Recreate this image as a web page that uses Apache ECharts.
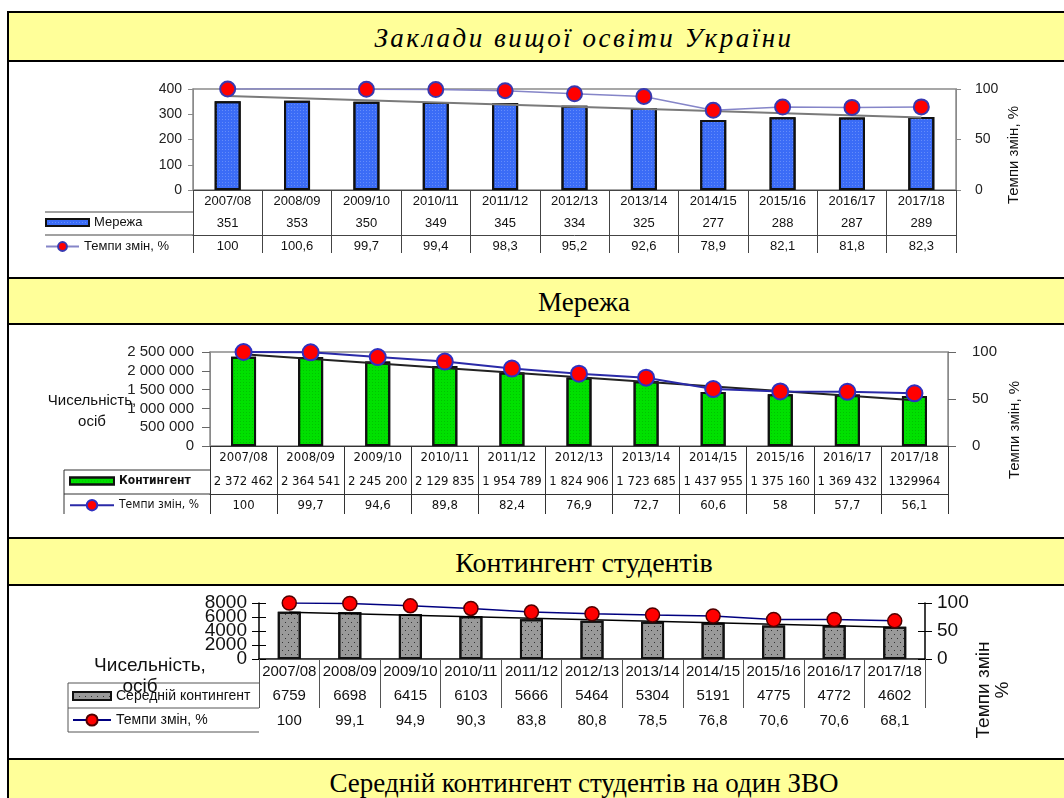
<!DOCTYPE html>
<html>
<head>
<meta charset="utf-8">
<script src="https://cdn.jsdelivr.net/npm/echarts@6/dist/echarts.min.js"></script>
<style>
  html, body { margin: 0; padding: 0; background: #fff; width: 1064px; height: 798px; overflow: hidden; }
  .wrap { position: absolute; left: 7px; top: 11px; width: 1150px; border: 2px solid #000; border-bottom: none; }
  .band { background: #ffff99; border-bottom: 2px solid #000; text-align: center; color: #000;
          font-family: 'Liberation Serif', 'Times New Roman', serif; font-size: 27px; }
  .band.main { font-style: italic; font-size: 27px; letter-spacing: 2.5px; }
  .chart { width: 1150px; border-bottom: 2px solid #000; }
</style>
</head>
<body>
<div class="wrap">
  <div class="band main" style="height:47px;line-height:50px">Заклади вищої освіти України</div>
  <div class="chart" id="c1" style="height:215px"></div>
  <div class="band" style="height:44px;line-height:46px">Мережа</div>
  <div class="chart" id="c2" style="height:212px"></div>
  <div class="band" style="height:45px;line-height:48px;font-size:28px">Контингент студентів</div>
  <div class="chart" id="c3" style="height:172px"></div>
  <div class="band" style="height:40px;line-height:46px">Середній контингент студентів на один ЗВО</div>
</div>
<script>
const years = ['2007/08', '2008/09', '2009/10', '2010/11', '2011/12', '2012/13',
  '2013/14', '2014/15', '2015/16', '2016/17', '2017/18'];

// мережа закладів
const merezha = [351, 353, 350, 349, 345, 334, 325, 277, 288, 287, 289];
const merezhaTemp = [100, 100.6, 99.7, 99.4, 98.3, 95.2, 92.6, 78.9, 82.1, 81.8, 82.3];
const merezhaTrend = [372, 287]; // лінія тренду: початок і кінець

// контингент студентів
const kontyngent = [2372462, 2364541, 2245200, 2129835, 1954789, 1824906, 1723685,
  1437955, 1375160, 1369432, 1329964];
const kontyngentLabels = ['2 372 462', '2 364 541', '2 245 200', '2 129 835', '1 954 789',
  '1 824 906', '1 723 685', '1 437 955', '1 375 160', '1 369 432', '1329964'];
const kontyngentTemp = [100, 99.7, 94.6, 89.8, 82.4, 76.9, 72.7, 60.6, 58, 57.7, 56.1];
const kontyngentTrend = [2440000, 1220000];

// середній контингент на один ЗВО
const serednii = [6759, 6698, 6415, 6103, 5666, 5464, 5304, 5191, 4775, 4772, 4602];
const seredniiTemp = [100, 99.1, 94.9, 90.3, 83.8, 80.8, 78.5, 76.8, 70.6, 70.6, 68.1];
const seredniiTrend = [6690, 4540];
const seredniiTicks = ['0', '2000', '4000', '6000', '8000'];

const arial = "'Liberation Sans', Arial, sans-serif";
const cond = "'DejaVu Sans Condensed', 'DejaVu Sans', sans-serif";

function comma(list) {
  return list.map(v => String(v).replace('.', ','));
}

// рядок таблиці даних під графіком = ще одна категорійна вісь
// tickLen - довжина вертикальних розділювачів клітинок вниз від лінії рядка
function tableRow(labels, offset, tickLen, st) {
  return {
    type: 'category', position: 'bottom', offset: offset, data: labels,
    axisLine: { show: true, lineStyle: { color: st.line, width: 1 } },
    axisTick: { show: tickLen > 0, interval: 0, length: tickLen, lineStyle: { color: st.line, width: 1 } },
    axisLabel: { show: labels.length > 0, interval: 0, margin: st.margin, color: '#111',
      fontSize: st.size, fontFamily: st.family },
    splitLine: { show: false }
  };
}

function hline(x1, x2, y, color) {
  return { type: 'line', shape: { x1: x1, y1: y, x2: x2, y2: y }, style: { stroke: color, lineWidth: 1 } };
}
function vline(x, y1, y2, color) {
  return { type: 'line', shape: { x1: x, y1: y1, x2: x, y2: y2 }, style: { stroke: color, lineWidth: 1 } };
}
function label(text, x, y, font, rot) {
  return { type: 'text', x: x, y: y, rotation: rot || 0,
    style: { text: text, font: font, fill: '#111', align: 'center', verticalAlign: 'middle' } };
}

// ---------- Мережа ----------
const chart1 = echarts.init(document.getElementById('c1'));
const st1 = { line: '#444', size: 13, family: arial, margin: 5 };
chart1.setOption({
  animation: false,
  grid: { left: 184, top: 27, width: 763, height: 101, show: true, borderColor: '#8a8a8a', borderWidth: 1.5,
    outerBoundsMode: 'none' },
  xAxis: [
    tableRow(years, 0, 45, st1),
    tableRow(merezha.map(String), 22, 0, st1),
    tableRow(comma(merezhaTemp), 45, 18, st1)
  ],
  yAxis: [
    { type: 'value', min: 0, max: 400, interval: 100, position: 'left',
      axisLine: { show: true, lineStyle: { color: '#8a8a8a' } },
      axisTick: { show: true, length: 5, lineStyle: { color: '#8a8a8a' } },
      axisLabel: { fontSize: 14, fontFamily: arial, color: '#222', margin: 11, showMaxLabel: true },
      splitLine: { show: false } },
    { type: 'value', min: 0, max: 100, interval: 50, position: 'right',
      axisLine: { show: true, lineStyle: { color: '#8a8a8a' } },
      axisTick: { show: true, length: 5, lineStyle: { color: '#8a8a8a' } },
      axisLabel: { fontSize: 14, fontFamily: arial, color: '#222', margin: 19, showMaxLabel: true },
      splitLine: { show: false } }
  ],
  legend: [
    { data: ['Мережа'], left: 36, top: 154, padding: 0, icon: 'rect', itemWidth: 43, itemHeight: 7,
      selectedMode: false, textStyle: { fontSize: 13, fontFamily: arial, color: '#111' } },
    { data: ['Темпи змін, %'], left: 36, top: 178, padding: 0, itemWidth: 33, itemHeight: 11,
      selectedMode: false, textStyle: { fontSize: 13, fontFamily: arial, color: '#111' } }
  ],
  graphic: [
    hline(36, 184, 150, '#444'),
    hline(36, 184, 173, '#444'),
    label('Темпи змін, %', 1005, 93, '15px ' + arial, Math.PI / 2)
  ],
  series: [
    { name: 'Мережа', type: 'bar', data: merezha, barWidth: 26, z: 2,
      itemStyle: { color: '#3b6cf6', borderColor: '#111', borderWidth: 2,
        decal: { symbol: 'rect', symbolSize: 1, dashArrayX: [[1, 2]], dashArrayY: [1, 2],
          color: 'rgba(150,180,255,0.45)' } } },
    { name: 'тренд', type: 'line', yAxisIndex: 0, z: 3, symbol: 'none', silent: true,
      data: [[years[0], merezhaTrend[0]], [years[10], merezhaTrend[1]]],
      lineStyle: { color: '#7a7a7a', width: 2 } },
    { name: 'Темпи змін, %', type: 'line', yAxisIndex: 1, data: merezhaTemp, z: 4,
      symbol: 'circle', symbolSize: 15,
      lineStyle: { color: '#8585c8', width: 1.5 },
      itemStyle: { color: '#ff0000', borderColor: '#3838b0', borderWidth: 2 } }
  ]
});

// ---------- Контингент ----------
const chart2 = echarts.init(document.getElementById('c2'));
const st2 = { line: '#333', size: 13, family: cond, margin: 5 };
chart2.setOption({
  animation: false,
  grid: { left: 201, top: 27, width: 738, height: 94, show: true, borderColor: '#8a8a8a', borderWidth: 1.5,
    outerBoundsMode: 'none' },
  xAxis: [
    tableRow(years, 0, 48, st2),
    tableRow(kontyngentLabels, 24, 0, st2),
    tableRow(comma(kontyngentTemp), 48, 20, st2)
  ],
  yAxis: [
    { type: 'value', min: 0, max: 2500000, interval: 500000, position: 'left',
      axisLine: { show: true, lineStyle: { color: '#8a8a8a' } },
      axisTick: { show: true, length: 8, lineStyle: { color: '#666' } },
      axisLabel: { fontSize: 15, fontFamily: arial, color: '#222', margin: 16, showMaxLabel: true,
        formatter: v => String(v).replace(/\B(?=(\d{3})+(?!\d))/g, ' ') },
      splitLine: { show: false } },
    { type: 'value', min: 0, max: 100, interval: 50, position: 'right',
      axisLine: { show: true, lineStyle: { color: '#8a8a8a' } },
      axisTick: { show: true, length: 8, lineStyle: { color: '#666' } },
      axisLabel: { fontSize: 15, fontFamily: arial, color: '#222', margin: 24, showMaxLabel: true },
      splitLine: { show: false } }
  ],
  legend: [
    { data: ['Контингент'], left: 60, top: 150, padding: 0, icon: 'rect', itemWidth: 44, itemHeight: 7,
      selectedMode: false, textStyle: { fontSize: 12, fontFamily: cond, fontWeight: 'bold', color: '#111' } },
    { data: ['Темпи змін, %'], left: 60, top: 174, padding: 0, itemWidth: 44, itemHeight: 13,
      selectedMode: false, textStyle: { fontSize: 12, fontFamily: cond, color: '#111' } }
  ],
  graphic: [
    hline(55, 201, 145, '#333'),
    hline(55, 201, 169, '#333'),
    vline(55, 145, 189, '#333'),
    label('Чисельність,', 83, 76, '15px ' + arial),
    label('осіб', 83, 97, '15px ' + arial),
    label('Темпи змін, %', 1006, 105, '15px ' + arial, Math.PI / 2)
  ],
  series: [
    { name: 'Контингент', type: 'bar', data: kontyngent, barWidth: 25, z: 2,
      itemStyle: { color: '#00e000', borderColor: '#111', borderWidth: 2,
        decal: { symbol: 'rect', symbolSize: 1, dashArrayX: [[1, 2]], dashArrayY: [1, 2],
          color: 'rgba(0,140,0,0.35)' } } },
    { name: 'тренд', type: 'line', yAxisIndex: 0, z: 3, symbol: 'none', silent: true,
      data: [[years[0], kontyngentTrend[0]], [years[10], kontyngentTrend[1]]],
      lineStyle: { color: '#222', width: 2 } },
    { name: 'Темпи змін, %', type: 'line', yAxisIndex: 1, data: kontyngentTemp, z: 4,
      symbol: 'circle', symbolSize: 16,
      lineStyle: { color: '#2a2aa8', width: 2 },
      itemStyle: { color: '#ff0000', borderColor: '#3030c0', borderWidth: 2 } }
  ]
});

// ---------- Середній контингент ----------
const chart3 = echarts.init(document.getElementById('c3'));
const st3 = { line: '#555', size: 15, family: arial, margin: 5 };
const row0 = tableRow(years, 0, 49, st3);
row0.axisLine.lineStyle = { color: '#000', width: 1.5 };
chart3.setOption({
  animation: false,
  grid: { left: 250, top: 17, width: 666, height: 56, show: false, outerBoundsMode: 'none' },
  xAxis: [
    row0,
    tableRow(serednii.map(String), 24, 0, st3),
    tableRow(comma(seredniiTemp), 49, 24, st3),
    tableRow([], 73, 0, st3)
  ],
  yAxis: [
    { type: 'value', min: 0, max: 8000, interval: 2000, position: 'left',
      axisLine: { show: true, lineStyle: { color: '#000', width: 1.5 } },
      axisTick: { show: true, length: 7, lineStyle: { color: '#000' } },
      axisLabel: { show: false },
      splitLine: { show: false } },
    { type: 'value', min: 0, max: 100, interval: 50, position: 'right',
      axisLine: { show: true, lineStyle: { color: '#000', width: 1.5 } },
      axisTick: { show: true, length: 7, lineStyle: { color: '#000' } },
      axisLabel: { fontSize: 19, fontFamily: arial, color: '#111', margin: 12, showMaxLabel: true },
      splitLine: { show: false } },
    { type: 'value', min: 0, max: 8000, interval: 2000, position: 'left',
      axisLine: { show: false }, axisLabel: { show: false }, splitLine: { show: false },
      axisTick: { show: true, inside: true, length: 7, lineStyle: { color: '#000' } } },
    { type: 'value', min: 0, max: 100, interval: 50, position: 'right',
      axisLine: { show: false }, axisLabel: { show: false }, splitLine: { show: false },
      axisTick: { show: true, inside: true, length: 7, lineStyle: { color: '#000' } } },
    // підписи лівої осі: в оригіналі вони накладаються один на одного
    { type: 'category', data: seredniiTicks, boundaryGap: false, position: 'left',
      axisLine: { show: false }, axisTick: { show: false }, splitLine: { show: false },
      axisLabel: { interval: 0, hideOverlap: false, fontSize: 19, fontFamily: arial, color: '#111', margin: 12 } }
  ],
  legend: [
    { data: ['Середній контингент'], left: 63, top: 103, padding: 0, icon: 'rect', itemWidth: 38, itemHeight: 8,
      selectedMode: false, textStyle: { fontSize: 14, fontFamily: arial, color: '#111' } },
    { data: ['Темпи змін, %'], left: 63, top: 127, padding: 0, itemWidth: 38, itemHeight: 14,
      selectedMode: false, textStyle: { fontSize: 14, fontFamily: arial, color: '#111' } }
  ],
  graphic: [
    hline(59, 250, 97, '#555'),
    hline(59, 250, 122, '#555'),
    hline(59, 250, 146, '#555'),
    vline(59, 97, 146, '#555'),
    label('Чисельність,', 141, 80, '19px ' + arial),
    label('осіб', 131, 101, '19px ' + arial),
    label('Темпи змін\n%', 984, 104, '19px ' + arial, Math.PI / 2)
  ],
  series: [
    { name: 'Середній контингент', type: 'bar', data: serednii, barWidth: 23, z: 2,
      itemStyle: { color: '#9a9a9a', borderColor: '#111', borderWidth: 2,
        decal: { symbol: 'rect', symbolSize: 1, dashArrayX: [[1, 5], [0, 3, 1, 2]], dashArrayY: [1, 3],
          color: '#333' } } },
    { name: 'тренд', type: 'line', yAxisIndex: 0, z: 3, symbol: 'none', silent: true,
      data: [[years[0], seredniiTrend[0]], [years[10], seredniiTrend[1]]],
      lineStyle: { color: '#000', width: 1.5 } },
    { name: 'Темпи змін, %', type: 'line', yAxisIndex: 1, data: seredniiTemp, z: 4,
      symbol: 'circle', symbolSize: 14,
      lineStyle: { color: '#000080', width: 1.5 },
      itemStyle: { color: '#ff0000', borderColor: '#500000', borderWidth: 1.5 } }
  ]
});
</script>
</body>
</html>
